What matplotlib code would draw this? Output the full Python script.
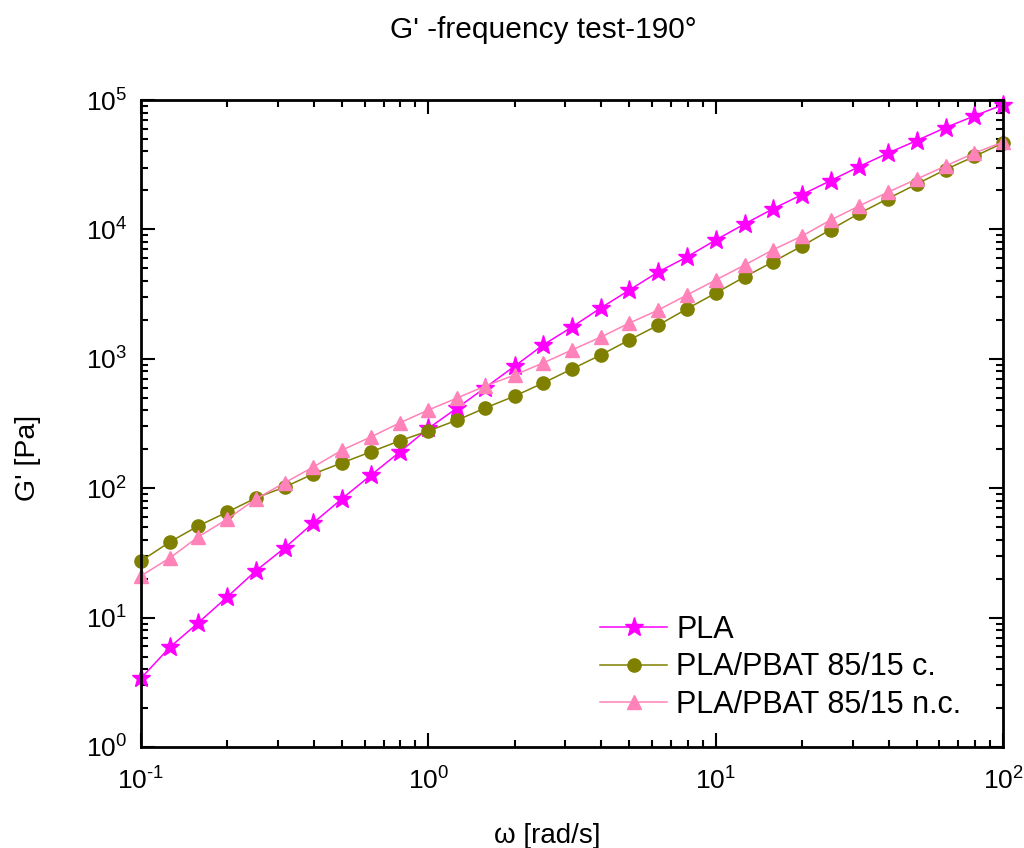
import numpy as np
import matplotlib
matplotlib.use('Agg')
import matplotlib.pyplot as plt
from matplotlib.ticker import LogLocator, FuncFormatter, NullFormatter

plt.rcParams['font.family'] = ['Liberation Sans', 'DejaVu Sans']
plt.rcParams['mathtext.fontset'] = 'custom'
plt.rcParams['mathtext.rm'] = 'Liberation Sans'
plt.rcParams['mathtext.it'] = 'Liberation Sans'
plt.rcParams['xtick.labelsize'] = 19
plt.rcParams['ytick.labelsize'] = 19

# angular frequency [rad/s]
omega = [0.1, 0.126, 0.158, 0.2, 0.251, 0.316, 0.398, 0.501, 0.631, 0.794,
         1.0, 1.26, 1.58, 2.0, 2.51, 3.16, 3.98, 5.01, 6.31, 7.94,
         10, 12.6, 15.8, 20, 25.1, 31.6, 39.8, 50.1, 63.1, 79.4, 100]

g_pla = [3.4, 5.9, 9.1, 14.5, 23, 34.5, 54, 83, 126, 190,
         290, 417, 600, 880, 1280, 1760, 2470, 3400, 4690, 6120,
         8280, 11000, 14400, 18600, 23800, 30600, 38900, 48600, 61200, 75200, 92000]
g_blend_c = [27.4, 38.4, 51, 65.5, 84, 102, 129, 157, 191, 232,
             277, 336, 417, 516, 650, 834, 1070, 1400, 1820, 2430,
             3220, 4290, 5600, 7450, 9950, 13300, 17300, 22400, 29000, 36600, 46500]
g_blend_nc = [21, 28.9, 42, 57.8, 82.6, 110, 146, 197, 249, 319,
              402, 498, 617, 750, 929, 1170, 1470, 1890, 2380, 3110,
              4060, 5300, 6940, 8900, 11800, 15200, 19400, 24500, 30900, 38900, 47300]

labels = ['PLA', 'PLA/PBAT 85/15 c.', 'PLA/PBAT 85/15 n.c.']

fig = plt.figure(figsize=(10.24, 8.48), dpi=100)
ax = fig.add_axes([141/1024, 1 - 747/848, (1003 - 141)/1024, (747 - 100)/848])

ax.plot(omega, g_pla, color='#FF00FF', marker='*', markersize=14, lw=1.1, label=labels[0], clip_on=False)
ax.plot(omega, g_blend_c, color='#808000', marker='o', markersize=9.5, lw=1.1, label=labels[1], clip_on=False)
ax.plot(omega, g_blend_nc, color='#FF82B8', marker='^', markersize=10.5, lw=1.1, label=labels[2], clip_on=False)

ax.set_xscale('log')
ax.set_yscale('log')
ax.set_xlim(0.1, 100)
ax.set_ylim(1, 1e5)

fmt = FuncFormatter(lambda v, p: r'$10^{\text{%d}}$' % int(round(np.log10(v))))
for axis in (ax.xaxis, ax.yaxis):
    axis.set_major_locator(LogLocator(base=10, numticks=10))
    axis.set_minor_locator(LogLocator(base=10, subs=np.arange(2, 10), numticks=20))
    axis.set_major_formatter(fmt)
    axis.set_minor_formatter(NullFormatter())

ax.tick_params(which='both', direction='in', top=True, right=True, width=1.5)
ax.tick_params(which='major', length=10)
ax.tick_params(which='minor', length=5)
ax.tick_params(axis='x', pad=15)
ax.tick_params(axis='y', pad=10)
for s in ax.spines.values():
    s.set_linewidth(2)

fig.text(543/1024, 1 - 30/848, "G' -frequency test-190°", ha='center', va='center', fontsize=21.5)
fig.text(28/1024, 1 - 458/848, "G' [Pa]", ha='center', va='center', rotation=90, fontsize=20.5)
fig.text(547/1024, 1 - 836/848, 'ω [rad/s]', ha='center', va='center', fontsize=20)

ax.legend(loc='lower left', bbox_to_anchor=(600/1024, 1 - 720/848), bbox_transform=fig.transFigure,
          frameon=False, fontsize=22, borderpad=0, borderaxespad=0, handlelength=2.2,
          handletextpad=0.3, labelspacing=0.25)

fig.savefig('out.png', dpi=100)
